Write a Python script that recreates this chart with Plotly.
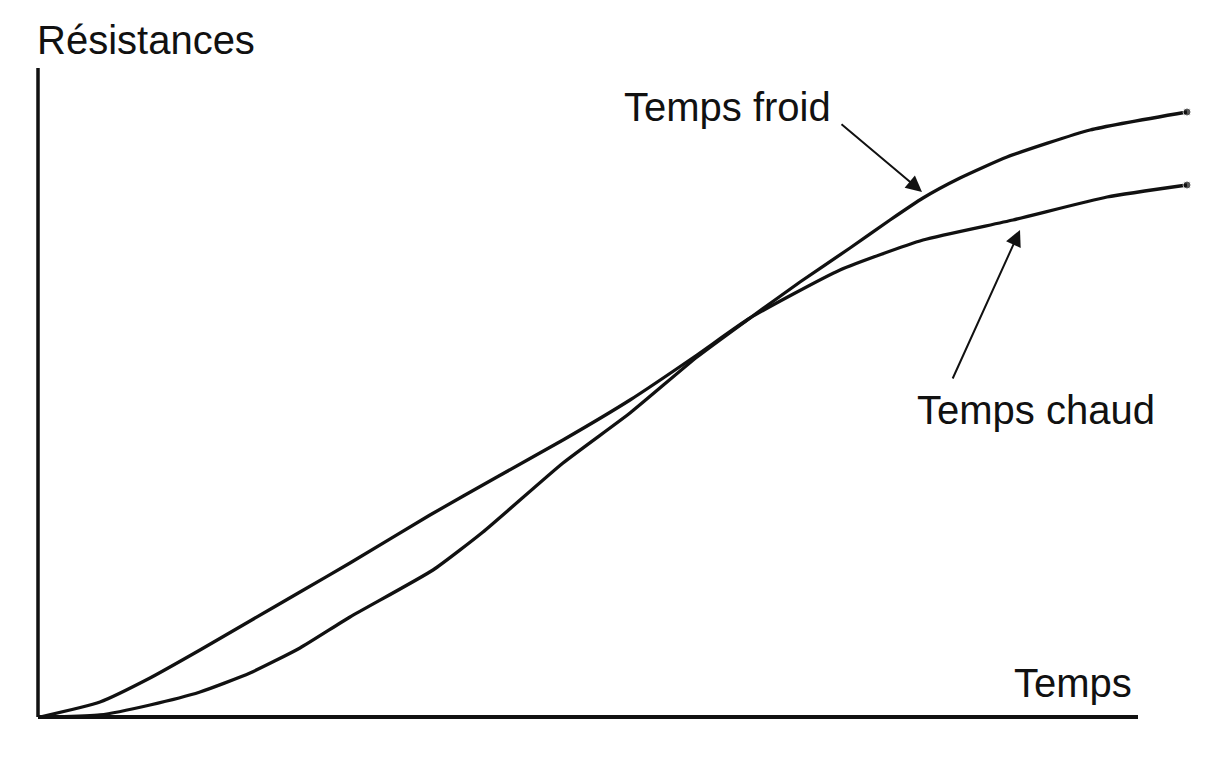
import plotly.graph_objects as go

# values (time units, resistance units)
chaud_x = [0.2, 6.2, 11.2, 16.2, 21.2, 26.2, 31.2, 39.2, 45.9, 52.5, 59.2, 65.9, 71.2, 80.2,
           88.5, 97.5, 106.9, 114.9]
chaud_y = [0, 1.5, 3.9, 6.7, 9.6, 12.5, 15.4, 20.2, 24.0, 27.7, 31.7, 36.2, 39.9, 44.7,
           47.7, 49.7, 52.0, 53.2]

froid_x = [1.7, 6.2, 11.2, 16.2, 21.2, 26.2, 31.2, 39.5, 44.5, 52.5, 59.2, 65.9, 71.2, 76.2,
           81.2, 85.2, 88.5, 92.2, 96.9, 105.2, 114.9]
froid_y = [0, 0.2, 1.2, 2.5, 4.4, 6.9, 10.0, 14.7, 18.5, 25.4, 30.4, 36.0, 39.9, 43.5,
           46.9, 49.7, 51.9, 53.9, 56.0, 58.7, 60.5]

X_AXIS_END = 110
Y_AXIS_TOP = 64.9

FONT = "Liberation Sans, Arial, sans-serif"
INK = "#111111"

fig = go.Figure()
for name, xs, ys in [("Temps chaud", chaud_x, chaud_y), ("Temps froid", froid_x, froid_y)]:
    fig.add_trace(go.Scatter(
        x=xs, y=ys, mode="lines+markers", name=name,
        line=dict(color=INK, width=3.3, shape="spline", smoothing=0.5),
        marker=dict(color=INK, size=[0] * (len(xs) - 1) + [8]),
    ))

# axes drawn as plain lines (x axis stops short of the curves)
fig.add_shape(type="line", x0=0, x1=X_AXIS_END, y0=0, y1=0, xref="x", yref="y",
              line=dict(color=INK, width=3.8))
fig.add_shape(type="line", x0=0, x1=0, y0=0, y1=Y_AXIS_TOP, xref="x", yref="y",
              line=dict(color=INK, width=3.5))

txt = dict(family=FONT, size=40, color=INK)
fig.add_annotation(x=0, y=1.033, xref="paper", yref="paper", text="Résistances",
                   showarrow=False, xanchor="left", yanchor="middle", font=txt)
fig.add_annotation(x=103.5, y=3.4, text="Temps", showarrow=False, font=txt)
fig.add_annotation(x=68.9, y=61.0, text="Temps froid", showarrow=False, font=txt)
fig.add_annotation(x=99.8, y=30.7, text="Temps chaud", showarrow=False, font=txt)

# pointer arrows
fig.add_annotation(x=88.4, y=52.5, ax=-82, ay=-69, text="", showarrow=True,
                   arrowhead=2, arrowsize=1.6, arrowwidth=2, arrowcolor=INK)
fig.add_annotation(x=98.2, y=48.7, ax=-68, ay=150, text="", showarrow=True,
                   arrowhead=2, arrowsize=1.6, arrowwidth=2, arrowcolor=INK)

fig.update_xaxes(range=[-0.3, 115.3], visible=False)
fig.update_yaxes(range=[-0.5, 65.5], visible=False)
fig.update_layout(
    width=1217,
    height=762,
    margin=dict(l=27, r=34, t=54, b=48),
    plot_bgcolor="white",
    paper_bgcolor="white",
    showlegend=False,
)

fig.write_html("out.html")
